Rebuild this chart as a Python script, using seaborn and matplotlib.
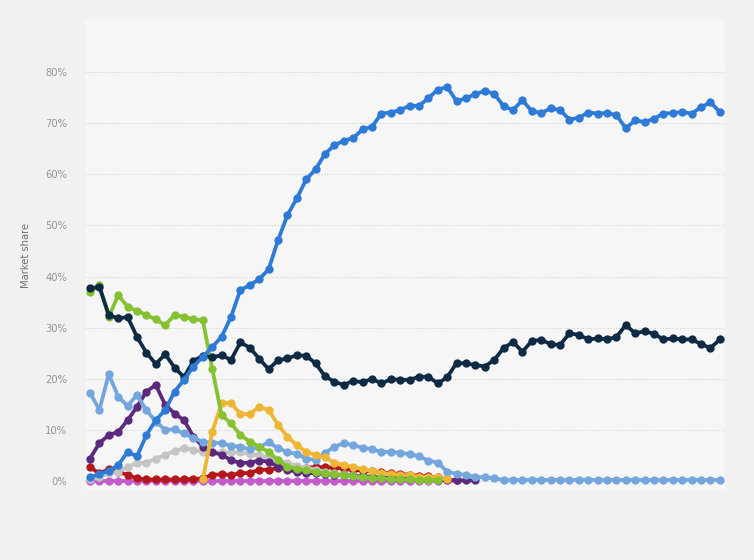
import matplotlib
matplotlib.use("Agg")
import matplotlib.pyplot as plt
import numpy as np
import pandas as pd
import seaborn as sns

# quarterly market share, Q1 2009 onwards (values in %)
quarters = [f"Q{q} '{y:02d}" for y in range(9, 26) for q in range(1, 5)]

android = [0.8, 1.3, 2.0, 3.1, 5.7, 4.8, 9.0, 11.9, 13.9, 17.5,
           19.8, 22.4, 24.3, 26.2, 28.2, 32.1, 37.4, 38.3, 39.5, 41.4,
           47.1, 52.0, 55.3, 59.0, 61.0, 64.0, 65.7, 66.6, 67.1, 68.8,
           69.3, 71.9, 72.1, 72.6, 73.4, 73.4, 74.9, 76.6, 77.1, 74.3,
           74.9, 75.7, 76.3, 75.8, 73.3, 72.6, 74.5, 72.4, 72.0, 72.9,
           72.6, 70.7, 71.1, 72.1, 71.9, 72.0, 71.6, 69.0, 70.6, 70.2,
           70.9, 71.9, 72.0, 72.2, 71.9, 73.1, 74.1, 72.2]

ios = [37.7, 38.0, 32.5, 31.8, 32.1, 28.2, 25.1, 22.9, 24.8, 22.2,
       20.3, 23.5, 24.5, 24.2, 24.6, 23.7, 27.1, 26.1, 23.9, 21.9,
       23.6, 24.0, 24.6, 24.5, 23.0, 20.5, 19.4, 18.8, 19.6, 19.3,
       20.0, 19.1, 19.9, 19.8, 19.8, 20.4, 20.4, 19.1, 20.3, 23.1,
       23.0, 22.7, 22.4, 23.7, 26.0, 27.2, 25.3, 27.4, 27.6, 26.8,
       26.6, 28.9, 28.6, 27.7, 27.9, 27.7, 28.2, 30.5, 28.9, 29.3,
       28.8, 27.7, 27.9, 27.7, 27.7, 26.8, 26.0, 27.7]

symbian = [37.0, 38.3, 32.1, 36.4, 34.1, 33.3, 32.5, 31.6, 30.5, 32.5,
           32.1, 31.6, 31.5, 22.0, 12.9, 11.3, 9.0, 7.7, 6.7, 5.7,
           4.1, 2.8, 2.4, 2.1, 1.8, 1.5, 1.3, 1.1, 0.9, 0.8,
           0.6, 0.5, 0.4, 0.3, 0.3, 0.2, 0.2, 0.1] + [None] * 30

unknown = [None] * 12 + [0.3, 9.6, 15.2, 15.3, 13.1, 13.1, 14.5, 13.9,
                         11.0, 8.7, 7.0, 5.7, 5.1, 4.6, 3.6, 3.1, 2.8, 2.3,
                         2.0, 1.6, 1.4, 1.2, 1.1, 0.8, 0.8, 0.7, 0.3] + [None] * 29

samsung = [17.3, 13.9, 20.9, 16.5, 14.7, 16.8, 13.9, 11.6, 10.0, 10.1,
           9.3, 8.4, 7.7, 7.5, 7.4, 6.9, 6.7, 6.2, 6.6, 7.6,
           6.4, 5.7, 5.3, 4.4, 4.1, 5.5, 6.7, 7.4, 7.0, 6.5,
           6.2, 5.7, 5.7, 5.5, 5.3, 4.8, 4.0, 3.6, 1.8, 1.4,
           1.2, 0.8, 0.7, 0.5] + [0.2] * 24

series40 = [4.4, 7.4, 9.0, 9.6, 11.9, 14.5, 17.5, 18.8, 14.9, 13.2,
            11.9, 8.7, 6.7, 5.7, 5.1, 4.1, 3.5, 3.6, 4.0, 3.8,
            2.8, 2.2, 1.8, 1.6, 1.5, 1.4, 1.2, 1.1, 1.0, 0.9,
            0.8, 0.7, 0.6, 0.5, 0.4, 0.3, 0.3, 0.2, 0.1, 0.1,
            0.1, 0.1] + [None] * 26

blackberry = [0.3, 0.8, 1.5, 1.8, 2.8, 3.5, 3.6, 4.4, 5.1, 5.9,
              6.4, 6.1, 5.7, 5.7, 5.6, 5.6, 5.6, 5.3, 5.0, 4.6,
              4.2, 3.5, 3.0, 2.6, 2.2, 1.8, 1.5, 1.3, 1.1, 0.9,
              0.8, 0.7, 0.6, 0.5, 0.4, 0.3, 0.2, 0.1] + [None] * 30

windows = [2.7, 1.5, 2.3, 1.8, 1.2, 0.5, 0.3, 0.3, 0.3, 0.3,
           0.3, 0.4, 0.5, 1.2, 1.3, 1.2, 1.5, 1.6, 2.2, 2.2,
           2.5, 2.5, 2.6, 2.6, 2.7, 2.7, 2.6, 2.4, 2.2, 2.0,
           1.9, 1.7, 1.5, 1.4, 1.2, 1.0, 0.9, 0.7, 0.3, 0.1] + [None] * 28

other = [0.0] * 38 + [None] * 30

# drawing order: first = bottom
series = [
    ("Other", other, "#c35ccb"),
    ("Windows", windows, "#b3161b"),
    ("BlackBerry", blackberry, "#c4c4c4"),
    ("Series 40", series40, "#5c2a7c"),
    ("Samsung", samsung, "#74a6de"),
    ("Unknown", unknown, "#efb636"),
    ("Symbian", symbian, "#85c232"),
    ("iOS", ios, "#0e2a45"),
    ("Android", android, "#2d7bd6"),
]

sns.set_theme(style="white")

fig = plt.figure(figsize=(7.54, 5.6), dpi=100)
fig.patch.set_facecolor("#f1f1f1")
ax = fig.add_axes([85 / 754, 70 / 560, 640 / 754, 470 / 560])
ax.set_facecolor("#f6f6f6")

x = np.arange(len(quarters))
for name, vals, col in series:
    s = pd.Series(vals, index=x, dtype=float)
    sns.lineplot(x=s.index, y=s.values, ax=ax, color=col, linewidth=2.7,
                 marker="o", markersize=6, markeredgewidth=0, label=name)

ax.legend().remove()
ax.set_xlim(-0.53, 67.55)
ax.set_ylim(-1.76, 90.2)
ax.set_yticks(range(0, 81, 10))
ax.set_yticklabels([f"{v}%" for v in range(0, 81, 10)], color="#959595", fontsize=7.2)
ax.set_xticks([])
ax.tick_params(axis="y", length=0, pad=13)
ax.yaxis.grid(True, linestyle=(0, (1, 1.5)), color="#d2d2d2", linewidth=0.8)
ax.set_axisbelow(True)
for sp in ax.spines.values():
    sp.set_visible(False)
ax.set_xlabel("")
ax.set_ylabel("Market share", color="#707070", fontsize=7.2, labelpad=10)

fig.savefig("out.png", dpi=100, facecolor=fig.get_facecolor())
